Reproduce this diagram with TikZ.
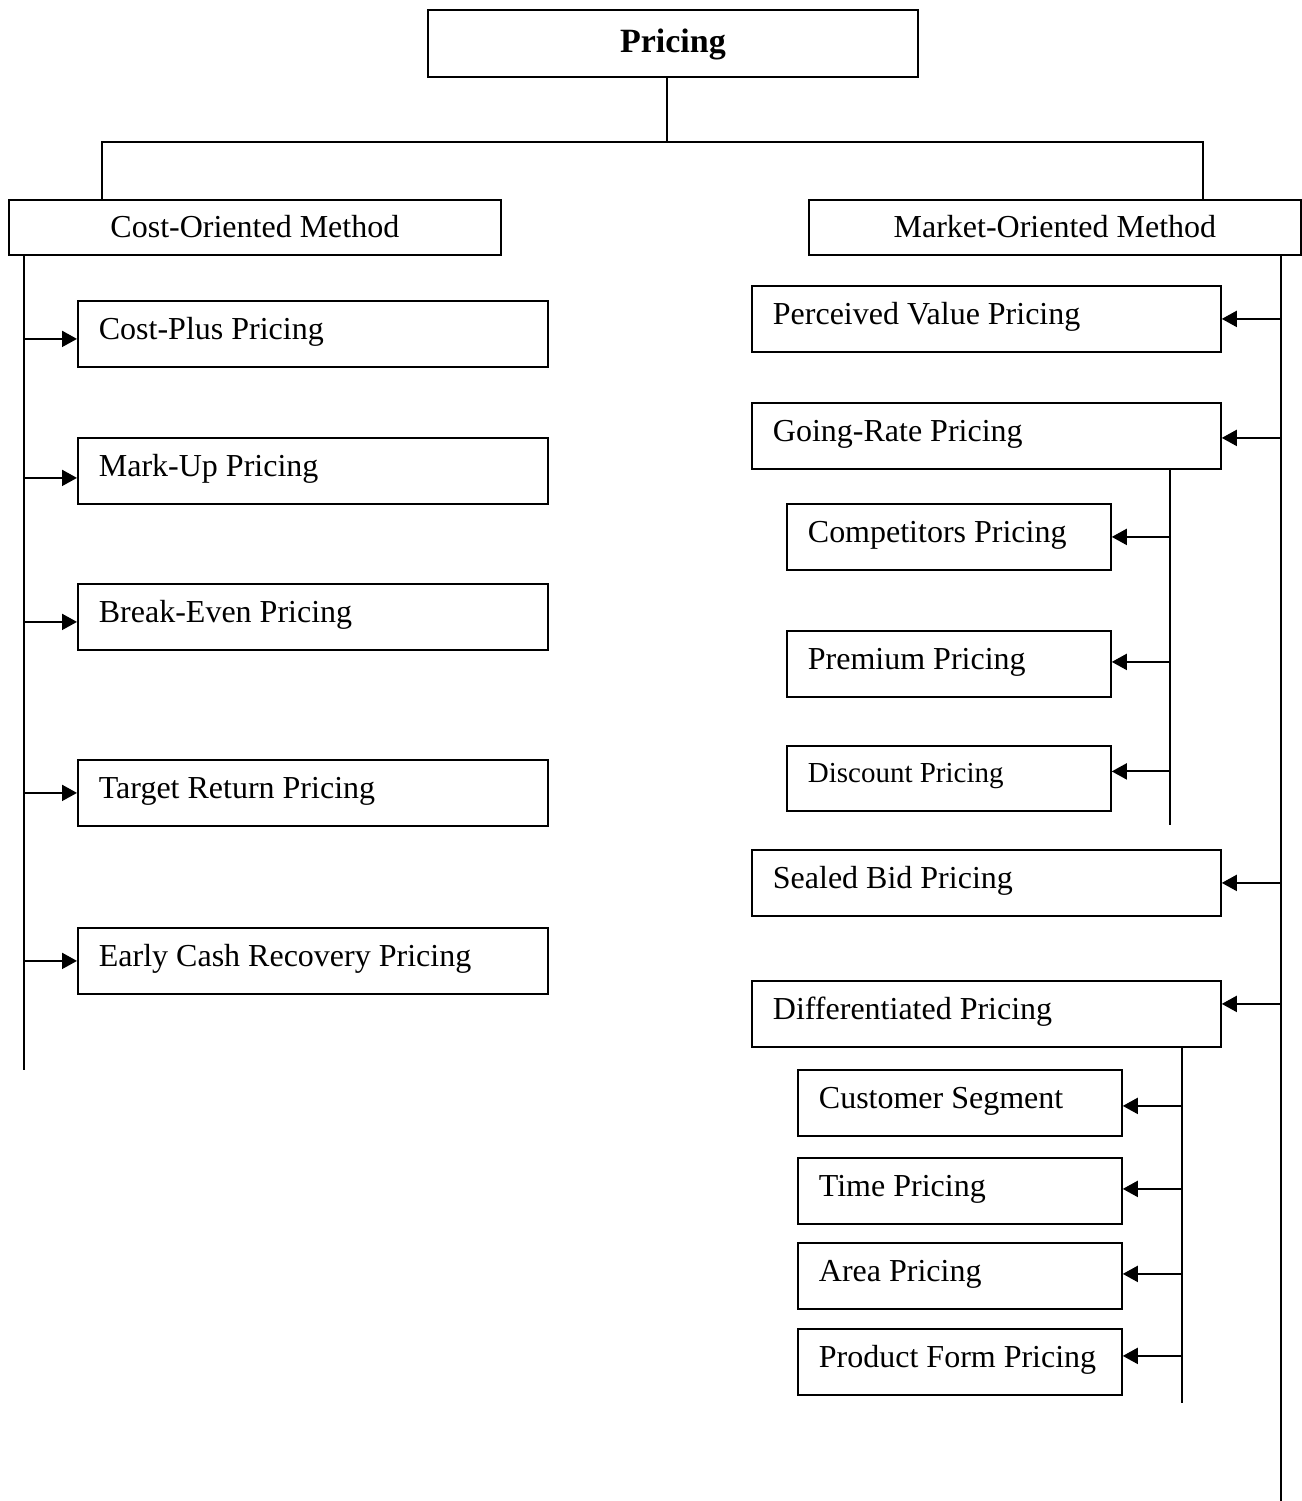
\documentclass[tikz,border=0pt]{standalone}
\usepackage{fontspec}
\setmainfont{Liberation Serif}
\usetikzlibrary{arrows.meta}
\begin{document}
\begin{tikzpicture}[x=0.5pt,y=-0.5pt,
  every node/.style={font=\fontsize{16pt}{19pt}\selectfont},
  box/.style={draw, line width=0.9pt, rectangle, anchor=north west, inner ysep=0pt},
  titlebox/.style={box, minimum width=245pt, minimum height=33.5pt,
    text height=12pt, text depth=2.5pt, font=\fontsize{17pt}{20pt}\selectfont\bfseries},
  methodbox/.style={box, minimum width=246pt, minimum height=27.5pt,
    text height=10.5pt, text depth=0pt},
  % left-set label in a box of fixed inner width
  leaf/.style={box, inner xsep=10.5pt, minimum height=33pt,
    text height=10.5pt, text depth=4.5pt,
    execute at begin node={\hbox to #1\bgroup},
    execute at end node={\hfil\egroup}},
  wire/.style={line width=1pt},
  arrow/.style={wire, -{Triangle[length=7.5pt,width=8pt]}}
]
\useasboundingbox (0,0) rectangle (1302,1501);

% root and the two method groups
\node[titlebox] (pricing) at (427,9) {Pricing};
\node[methodbox] (cost) at (8,199) {Cost-Oriented Method};
\node[methodbox] (market) at (808,199) {Market-Oriented Method};

% cost-oriented methods
\node[leaf=214pt] (costplus)  at (77,300) {Cost-Plus Pricing};
\node[leaf=214pt] (markup)    at (77,437) {Mark-Up Pricing};
\node[leaf=214pt] (breakeven) at (77,583) {Break-Even Pricing};
\node[leaf=214pt] (target)    at (77,759) {Target Return Pricing};
\node[leaf=214pt] (early)     at (77,927) {Early Cash Recovery Pricing};

% market-oriented methods
\node[leaf=213.5pt] (perceived) at (751,285) {Perceived Value Pricing};
\node[leaf=213.5pt] (going)     at (751,402) {Going-Rate Pricing};
\node[leaf=213.5pt] (sealed)    at (751,849) {Sealed Bid Pricing};
\node[leaf=213.5pt] (diff)      at (751,980) {Differentiated Pricing};

% going-rate variants
\node[leaf=141pt] (competitors) at (786,503) {Competitors Pricing};
\node[leaf=141pt] (premium)     at (786,630) {Premium Pricing};
\node[leaf=141pt, minimum height=32.5pt, text depth=6pt,
      font=\fontsize{14.5pt}{17pt}\selectfont] (discount) at (786,745) {Discount Pricing};

% differentiated variants
\node[leaf=141pt] (customer) at (797,1069) {Customer Segment};
\node[leaf=141pt] (time)     at (797,1157) {Time Pricing};
\node[leaf=141pt] (area)     at (797,1242) {Area Pricing};
\node[leaf=141pt] (product)  at (797,1328) {Product Form Pricing};

% junction points and spine ends
\coordinate (hubC) at (667,142);
\coordinate (hubL) at (102,142);
\coordinate (hubR) at (1203,142);
\coordinate (costEnd) at (24,1070);
\coordinate (marketEnd) at (1281,1501);
\coordinate (goingEnd) at (1170,825);
\coordinate (diffEnd) at (1182,1403);

% tree from the root
\draw[wire] (pricing.south -| hubC) -- (hubC);
\draw[wire] (cost.north -| hubL) -- (hubL) -- (hubR) -- (market.north -| hubR);

% spines
\draw[wire] (cost.south -| costEnd) -- (costEnd);
\draw[wire] (market.south -| marketEnd) -- (marketEnd);
\draw[wire] (going.south -| goingEnd) -- (goingEnd);
\draw[wire] (diff.south -| diffEnd) -- (diffEnd);

% cost-oriented arrows
\draw[arrow] ([yshift=-2.5pt]costEnd |- costplus.west) -- ([yshift=-2.5pt]costplus.west);
\draw[arrow] ([yshift=-3.5pt]costEnd |- markup.west) -- ([yshift=-3.5pt]markup.west);
\draw[arrow] ([yshift=-2.5pt]costEnd |- breakeven.west) -- ([yshift=-2.5pt]breakeven.west);
\draw[arrow] (costEnd |- target.west) -- (target.west);
\draw[arrow] (costEnd |- early.west) -- (early.west);

% market-oriented arrows
\draw[arrow] (marketEnd |- perceived.east) -- (perceived.east);
\draw[arrow] ([yshift=-1pt]marketEnd |- going.east) -- ([yshift=-1pt]going.east);
\draw[arrow] (marketEnd |- sealed.east) -- (sealed.east);
\draw[arrow] ([yshift=5pt]marketEnd |- diff.east) -- ([yshift=5pt]diff.east);

% going-rate arrows
\draw[arrow] (goingEnd |- competitors.east) -- (competitors.east);
\draw[arrow] ([yshift=1pt]goingEnd |- premium.east) -- ([yshift=1pt]premium.east);
\draw[arrow] ([yshift=3.5pt]goingEnd |- discount.east) -- ([yshift=3.5pt]discount.east);

% differentiated arrows
\draw[arrow] ([yshift=-1.5pt]diffEnd |- customer.east) -- ([yshift=-1.5pt]customer.east);
\draw[arrow] ([yshift=1pt]diffEnd |- time.east) -- ([yshift=1pt]time.east);
\draw[arrow] ([yshift=1pt]diffEnd |- area.east) -- ([yshift=1pt]area.east);
\draw[arrow] ([yshift=3pt]diffEnd |- product.east) -- ([yshift=3pt]product.east);
\end{tikzpicture}
\end{document}
